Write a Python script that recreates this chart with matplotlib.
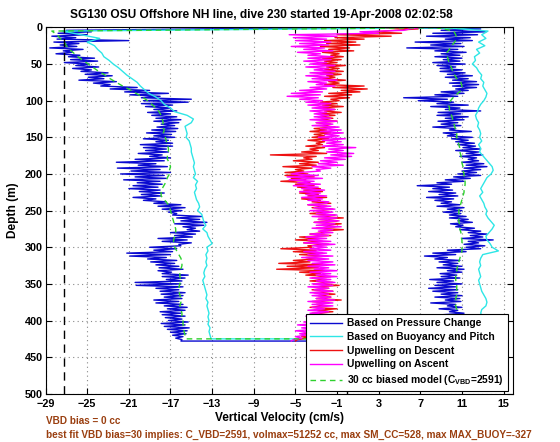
import numpy as np
import matplotlib
matplotlib.use("Agg")
import matplotlib.pyplot as plt

# ---------------- data ----------------
title = "SG130 OSU Offshore NH line, dive 230 started 19-Apr-2008 02:02:58"
xticks = [-29, -25, -21, -17, -13, -9, -5, -1, 3, 7, 11, 15]
yticks = [0, 50, 100, 150, 200, 250, 300, 350, 400, 450, 500]
zero_line = 0.0
stall_line = -27.2

depth2 = np.arange(0, 429, 2)   # sampling depths (m) for noisy series
depth5 = np.arange(0, 426, 5)   # sampling depths (m) for smooth series

blue_desc = [8.0, -14.0, -27.0, -24.6, -27.8, -25.0, -28.4, -26.1, -27.9, -21.0,
             -28.2, -25.8, -27.6, -26.0, -28.6, -25.4, -27.3, -26.4, -28.0, -25.7,
             -26.8, -24.3, -26.6, -24.0, -27.2, -24.8, -26.1, -23.9, -26.4, -24.6,
             -25.6, -23.0, -25.2, -22.6, -24.9, -23.4, -25.8, -22.2, -24.4, -22.8,
             -23.7, -20.2, -22.8, -19.0, -21.4, -17.2, -20.9, -18.0, -19.8, -15.0,
             -19.6, -15.3, -19.8, -16.8, -19.4, -17.0, -18.6, -16.4, -19.2, -17.0,
             -18.8, -16.4, -18.4, -16.0, -18.6, -16.2, -17.9, -16.6, -18.3, -16.3,
             -18.8, -16.5, -19.3, -16.9, -18.6, -16.6, -19.6, -17.2, -18.4, -16.8,
             -19.9, -16.8, -19.6, -17.4, -19.4, -17.2, -20.1, -17.8, -19.0, -17.0,
             -20.4, -17.6, -22.2, -18.4, -20.1, -17.3, -22.1, -18.0, -20.8, -17.0,
             -21.8, -17.6, -20.4, -17.4, -21.5, -18.0, -20.2, -17.8, -20.6, -18.2,
             -21.0, -18.0, -20.0, -17.6, -19.8, -17.9, -20.6, -18.4, -19.6, -17.4,
             -18.6, -16.0, -18.2, -15.6, -17.8, -15.9, -17.2, -16.4, -16.8, -14.0,
             -16.4, -14.2, -16.0, -13.5, -16.6, -13.8, -15.8, -14.6, -15.4, -14.2,
             -17.0, -14.6, -16.6, -14.9, -18.2, -15.4, -17.8, -15.0, -16.2, -16.0,
             -19.0, -16.4, -18.6, -16.8, -21.2, -17.0, -20.9, -17.4, -19.2, -16.4,
             -18.9, -16.6, -18.4, -16.2, -18.1, -15.8, -18.2, -16.9, -17.8, -15.3,
             -17.8, -15.6, -17.4, -15.9, -20.4, -16.0, -20.3, -15.8, -18.4, -16.2,
             -18.0, -15.6, -17.9, -15.8, -17.6, -15.9, -18.6, -16.2, -18.4, -15.8,
             -17.6, -15.4, -17.3, -15.6, -18.0, -16.0, -17.8, -15.6, -17.5, -15.9,
             -17.2, -15.3, -17.9, -15.6, -17.6, -15.2, -17.3, -15.4, -17.0, -15.5,
             -16.8, -15.8, -16.5, -15.9, -16.0]
blue_asc = [5.0, 12.8, 9.0, 13.3, 8.2, 12.5, 7.6, 11.8, 9.4, 12.0,
            6.5, 10.9, 8.0, 11.2, 5.7, 10.6, 8.4, 11.4, 9.0, 10.8,
            8.4, 11.0, 9.2, 10.8, 8.2, 11.3, 8.6, 10.4, 8.9, 11.0,
            8.9, 11.3, 9.6, 12.0, 9.4, 11.6, 10.1, 12.4, 9.8, 12.6,
            10.1, 12.4, 10.4, 11.6, 9.0, 11.2, 8.4, 10.6, 5.4, 9.6,
            6.8, 10.2, 8.6, 11.6, 8.0, 10.8, 9.4, 12.8, 8.7, 10.9,
            8.6, 11.6, 9.4, 11.2, 8.7, 10.6, 9.0, 10.9, 8.2, 10.4,
            9.8, 11.9, 9.2, 10.4, 9.6, 12.0, 10.0, 11.6, 10.4, 12.2,
            10.6, 12.3, 11.1, 12.8, 10.4, 12.6, 11.4, 13.0, 10.8, 12.4,
            11.6, 12.6, 11.0, 13.1, 11.4, 13.4, 11.2, 12.8, 11.0, 12.4,
            10.6, 12.8, 10.2, 11.8, 9.4, 11.2, 8.6, 10.0, 6.7, 9.8,
            8.2, 10.1, 7.8, 10.4, 8.8, 10.6, 7.6, 10.2, 8.4, 10.0,
            9.0, 10.8, 8.6, 11.2, 9.6, 11.0, 9.2, 10.9, 9.8, 11.4,
            9.8, 11.6, 10.6, 12.0, 9.9, 11.1, 10.4, 12.2, 10.8, 12.8,
            11.6, 13.4, 11.8, 13.0, 11.0, 14.0, 11.6, 12.6, 11.2, 13.2,
            11.4, 12.8, 9.6, 11.4, 8.2, 10.4, 7.4, 9.6, 8.4, 10.8,
            8.8, 10.6, 9.2, 11.0, 8.6, 11.2, 9.6, 11.0, 8.9, 10.5,
            9.0, 10.8, 7.9, 10.2, 8.6, 11.0, 8.4, 10.4, 7.8, 10.6,
            8.2, 10.6, 9.0, 11.0, 8.4, 10.8, 9.4, 10.9, 8.0, 10.4,
            9.6, 11.0, 8.8, 10.6, 9.8, 11.2, 9.2, 11.0, 9.6, 11.4,
            9.8, 11.2, 10.0, 11.0, 9.4, 10.8, 10.4, 11.2, 9.8, 10.9,
            10.4, 11.0, 10.6, 10.8, 10.5]

cyan_desc = [13.6, -27.4, -25.6, -23.8, -25.0, -24.3, -24.0, -23.6, -23.4, -22.9,
             -22.5, -22.0, -21.6, -21.2, -20.7, -20.2, -19.9, -19.5, -19.1, -18.4,
             -17.9, -17.6, -17.0, -16.6, -15.4, -14.8, -15.0, -15.6, -15.5, -15.4,
             -15.5, -15.2, -15.1, -15.0, -15.0, -14.9, -14.8, -14.7, -14.8, -14.7,
             -14.6, -14.8, -14.4, -14.6, -14.5, -14.7, -14.6, -14.5, -14.3, -14.2,
             -14.4, -14.0, -13.9, -13.8, -13.6, -13.9, -13.5, -13.4, -13.2, -13.0,
             -13.5, -13.4, -13.6, -13.5, -13.6, -13.5, -13.7, -13.8, -13.7, -13.9,
             -13.8, -13.7, -13.6, -13.5, -13.6, -13.4, -13.5, -13.4, -13.3, -13.4,
             -13.3, -13.4, -13.2, -13.3, -13.2, -13.1]
cyan_asc = [9.0, 13.5, 12.9, 13.3, 12.6, 13.2, 12.4, 12.7, 12.2, 12.3,
            12.0, 12.4, 12.6, 12.9, 12.8, 13.1, 13.0, 13.2, 13.4, 13.3,
            13.1, 12.8, 12.6, 12.5, 12.3, 12.4, 12.6, 12.5, 12.7, 12.8,
            12.7, 12.9, 12.6, 12.8, 12.7, 13.0, 13.3, 13.6, 13.9, 14.0,
            13.8, 13.4, 13.2, 13.0, 12.8, 13.0, 12.7, 12.9, 13.1, 13.2,
            13.4, 13.3, 13.5, 13.8, 14.1, 13.9, 13.6, 13.3, 13.4, 13.7,
            13.9, 14.5, 13.0, 12.8, 12.7, 12.8, 12.6, 12.7, 12.8, 12.6,
            12.7, 12.8, 12.9, 13.1, 13.3, 13.4, 13.3, 12.9, 12.8, 13.0,
            13.1, 13.2, 13.0, 13.1, 13.0, 13.0]

green_desc = [12.0, -28.4, -27.9, -27.6, -27.2, -27.0, -26.7, -26.3, -25.9, -25.4,
              -24.9, -24.4, -23.9, -23.3, -22.8, -22.2, -21.6, -20.9, -20.3, -19.7,
              -19.2, -18.8, -18.4, -18.1, -17.9, -17.8, -17.7, -17.8, -17.6, -17.7,
              -17.5, -17.4, -17.3, -17.2, -17.2, -17.3, -17.3, -17.1, -17.0, -17.1,
              -17.1, -17.3, -17.4, -17.6, -17.8, -17.9, -17.9, -17.6, -17.3, -17.1,
              -17.0, -16.9, -16.8, -16.7, -16.6, -16.5, -16.5, -16.6, -16.7, -16.7,
              -16.6, -16.4, -16.2, -16.0, -15.9, -15.9, -16.0, -16.1, -16.1, -16.0,
              -16.1, -16.2, -16.2, -16.1, -16.0, -16.0, -16.1, -16.0, -15.9, -15.9,
              -15.8, -15.8, -15.7, -15.7, -15.6, -15.5]
green_asc = [8.5, 10.2, 10.4, 10.5, 10.3, 10.0, 9.8, 9.5, 9.6, 9.7,
             9.8, 10.0, 10.1, 10.3, 10.5, 10.9, 11.0, 11.0, 10.6, 10.2,
             9.9, 9.7, 9.8, 9.8, 10.0, 10.1, 10.2, 10.3, 10.4, 10.5,
             10.5, 10.6, 10.7, 10.8, 10.8, 10.9, 11.0, 11.0, 11.1, 11.1,
             11.2, 11.2, 11.3, 11.3, 11.2, 11.2, 11.1, 11.0, 10.9, 10.8,
             10.7, 10.7, 10.7, 10.7, 10.8, 10.8, 10.9, 10.9, 11.0, 11.0,
             11.0, 11.0, 10.9, 10.8, 10.7, 10.6, 10.5, 10.5, 10.4, 10.4,
             10.5, 10.5, 10.5, 10.5, 10.4, 10.4, 10.4, 10.5, 10.5, 10.6,
             10.6, 10.6, 10.7, 10.7, 10.7, 10.7]

red_desc = [3.0, 6.8, 4.5, 2.5, 5.2, -1.0, 4.2, -1.2, 1.6, -2.2,
            0.8, -2.0, 1.2, -2.6, 0.2, -1.8, 0.6, -2.4, -0.8, -1.6,
            -0.4, -2.4, -0.6, -2.2, -1.0, -2.6, -0.2, -2.0, -0.8, -2.2,
            -0.4, -2.6, -0.6, -2.0, -1.2, -2.4, -0.2, -1.8, -0.8, -2.2,
            1.6, -1.4, 1.9, -0.6, 1.2, -1.8, 0.4, -2.2, 0.2, -1.6,
            -0.8, -2.6, -1.0, -2.4, -0.4, -2.8, -1.2, -2.2, -0.6, -2.6,
            -1.2, -2.8, -1.4, -2.6, -1.0, -3.0, -1.6, -2.4, -1.2, -3.2,
            -2.0, -3.6, -1.6, -3.2, -2.2, -3.4, -1.8, -3.8, -2.2, -3.0,
            -2.4, -4.0, -2.2, -3.6, -2.8, -4.4, -2.0, -7.4, -3.0, -4.2,
            -3.4, -5.2, -2.8, -4.6, -3.0, -6.2, -3.4, -5.0, -4.2, -6.0,
            -3.8, -6.0, -3.2, -5.4, -4.0, -6.4, -3.6, -5.0, -3.2, -4.8,
            -2.6, -4.2, -2.4, -4.6, -2.8, -3.8, -2.0, -4.4, -2.6, -3.4,
            -1.6, -3.8, -2.0, -3.4, -1.4, -3.0, -1.8, -3.6, -1.2, -2.8,
            -0.4, -2.8, -1.0, -3.2, -0.6, -2.4, -1.2, -3.0, -0.4, -2.6,
            -2.2, -3.6, -1.6, -4.6, -2.8, -5.0, -2.4, -4.2, -1.8, -3.8,
            -3.4, -6.4, -3.0, -5.2, -2.4, -4.6, -2.0, -4.0, -3.0, -5.2,
            -3.6, -6.6, -2.4, -5.8, -2.8, -6.8, -2.0, -4.6, -2.6, -4.0,
            -1.6, -3.4, -2.0, -3.6, -1.4, -3.2, -0.8, -3.0, -1.8, -3.4,
            -1.4, -3.2, -1.2, -2.8, -1.6, -3.0, -0.6, -3.4, -1.8, -3.0,
            -2.2, -3.6, -1.0, -3.0, -1.4, -3.4, -1.8, -3.2, -2.0, -3.6,
            -2.0, -3.6, -2.4, -3.4, -2.6, -3.8, -2.8, -4.0, -3.0, -4.2,
            -3.4, -4.4, -3.8, -4.8, -5.0]
mag_asc = [7.0, 6.0, 5.4, 1.2, 3.0, -5.6, -1.0, -5.2, -2.0, -5.0,
           -1.6, -4.6, -1.8, -5.4, -2.2, -4.2, -1.4, -4.8, -2.6, -3.8,
           -1.4, -3.8, -1.6, -4.2, -2.0, -3.6, -1.2, -4.0, -1.8, -3.2,
           -1.2, -3.6, -1.4, -4.0, -1.8, -3.4, -1.0, -3.8, -2.0, -3.0,
           -1.2, -3.6, -2.0, -4.6, -2.4, -5.4, -2.6, -5.8, -2.8, -4.6,
           -2.4, -4.0, -1.6, -3.8, -1.8, -3.4, -1.2, -3.6, -2.0, -3.2,
           -1.8, -3.2, -1.6, -3.6, -1.0, -3.0, -1.4, -3.4, -0.8, -2.6,
           -0.6, -2.6, -0.4, -2.2, -0.8, -2.8, -0.2, -2.4, -0.6, -2.0,
           -0.4, -2.4, 0.8, -1.8, -0.4, -2.0, 0.6, -1.6, 0.4, -2.2,
           -0.2, -2.6, -1.0, -2.8, -0.4, -3.4, -1.6, -3.0, -2.6, -4.6,
           -5.4, -2.8, -5.8, -2.4, -5.6, -3.2, -4.8, -2.6, -5.2, -2.8,
           -4.4, -2.2, -4.6, -2.6, -4.0, -2.0, -4.4, -2.4, -3.8, -1.8,
           -2.0, -3.8, -1.6, -3.2, -1.2, -3.6, -1.4, -3.0, -1.0, -3.4,
           -1.0, -2.8, -0.8, -3.2, -1.2, -3.0, -0.6, -3.4, -1.4, -2.8,
           -1.4, -3.6, -1.8, -4.0, -2.0, -3.8, -1.6, -4.2, -1.2, -3.4,
           -2.0, -3.6, -1.6, -4.2, -2.0, -3.8, -1.4, -4.4, -1.8, -3.8,
           -1.4, -3.4, -1.2, -3.8, -1.8, -3.2, -1.0, -3.6, -1.6, -3.0,
           -1.0, -3.6, -1.6, -3.0, -1.2, -3.4, -1.4, -3.8, -1.8, -3.2,
           -1.4, -3.6, -1.8, -3.4, -1.6, -3.0, -1.2, -3.8, -1.4, -3.4,
           -1.4, -3.4, -2.2, -3.8, -1.8, -3.6, -2.0, -4.0, -2.2, -3.8,
           -2.6, -4.2, -3.0, -4.8, -2.8, -4.4, -3.2, -5.0, -3.6, -4.6,
           -4.0, -5.0, -4.4, -5.2, -5.4]

labels = ["Based on Pressure Change", "Based on Buoyancy and Pitch",
          "Upwelling on Descent", "Upwelling on Ascent",
          "30 cc biased model (C$_{\\rm VBD}$=2591)"]
note1 = "VBD bias = 0 cc"
note2 = ("best fit VBD bias=30 implies: C_VBD=2591, volmax=51252 cc, "
         "max SM_CC=528, max MAX_BUOY=-327")

# ---------------- plot ----------------
plt.rcParams['font.family'] = ['Liberation Sans', 'DejaVu Sans']
plt.rcParams['font.weight'] = 'bold'
plt.rcParams['mathtext.fontset'] = 'custom'
plt.rcParams['mathtext.rm'] = 'Liberation Sans:bold'
plt.rcParams['mathtext.it'] = 'Liberation Sans:bold'
plt.rcParams['mathtext.bf'] = 'Liberation Sans:bold'

fig = plt.figure(figsize=(5.6, 4.42), dpi=100)
ax = fig.add_axes([0.0814, 0.109, 0.8346, 0.829])

def dive(desc, asc, d):
    x = np.concatenate([np.asarray(desc), np.asarray(asc)[::-1]])
    y = np.concatenate([d, d[::-1]])
    return x, y

bx, by = dive(blue_desc, blue_asc, depth2)
cx, cy = dive(cyan_desc, cyan_asc, depth5)
gx, gy = dive(green_desc, green_asc, depth5)

c_blue = '#0a0ad0'
c_cyan = '#2ee6e6'
c_red = '#ee1111'
c_mag = '#ff00ff'
c_green = '#2ed12e'

ax.plot(bx, by, color=c_blue, lw=1.0, label=labels[0])
ax.plot(cx, cy, color=c_cyan, lw=1.0, label=labels[1])
ax.plot(red_desc, depth2, color=c_red, lw=1.0, label=labels[2])
ax.plot(mag_asc, depth2, color=c_mag, lw=1.0, label=labels[3])
ax.plot(gx, gy, color=c_green, lw=1.0, ls=(0, (4, 3)), label=labels[4])

ax.axvline(zero_line, color='black', lw=1.0)
ax.axvline(stall_line, color='black', lw=1.0, ls=(0, (6, 4)))

ax.set_xlim(-29, 15.9)
ax.set_ylim(500, 0)
ax.set_xticks(xticks)
ax.set_yticks(yticks)
ax.set_xticklabels([str(t).replace('-', '\u2212') for t in xticks])
ax.tick_params(direction='in', top=True, right=True, labelsize=7.8, length=4, width=0.8)
ax.tick_params(axis='x', pad=4)
ax.tick_params(axis='y', pad=2)
for lab in ax.get_xticklabels() + ax.get_yticklabels():
    lab.set_fontweight('bold')
ax.grid(True, color='#888888', ls=(0, (1, 3)), lw=0.8)
for s in ax.spines.values():
    s.set_linewidth(0.8)

ax.set_title(title, fontsize=8.6, fontweight='bold', pad=7, x=0.461)
ax.set_xlabel("Vertical Velocity (cm/s)", fontsize=8.6, fontweight='bold', labelpad=2)
ax.set_ylabel("Depth (m)", fontsize=8.6, fontweight='bold', labelpad=4)

leg = ax.legend(loc='lower right', bbox_to_anchor=(0.989, 0.007), borderaxespad=0,
                fontsize=7.4, fancybox=False, edgecolor='black', framealpha=1,
                handlelength=3.1, handletextpad=0.5, labelspacing=0.36,
                borderpad=0.4)
leg.get_frame().set_linewidth(0.8)
for t in leg.get_texts():
    t.set_fontweight('bold')

brown = '#9a3f10'
fig.text(0.083, 1 - 421.5 / 442, note1, color=brown, fontsize=7.2, fontweight='bold', va='center')
fig.text(0.083, 1 - 434.5 / 442, note2, color=brown, fontsize=7.2, fontweight='bold', va='center')

fig.savefig('out.png', dpi=100)
